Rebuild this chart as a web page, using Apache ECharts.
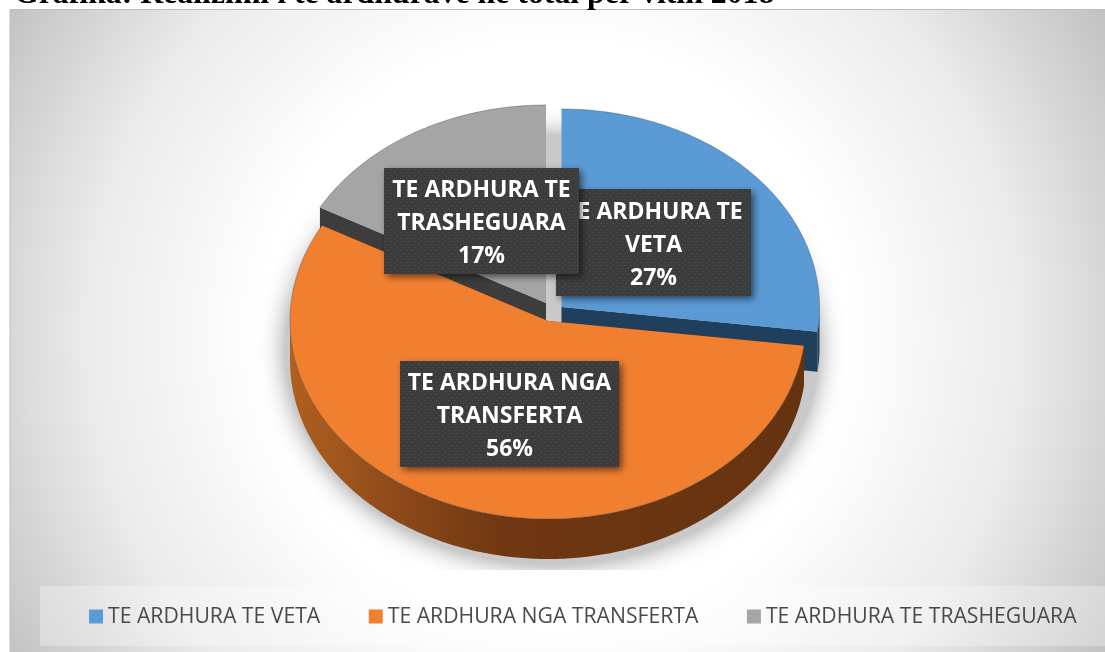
<!DOCTYPE html>
<html><head><meta charset="utf-8">
<style>html,body{margin:0;padding:0;background:#fff}#c{width:1105px;height:652px}</style>
<script src="https://cdn.jsdelivr.net/npm/echarts@6/dist/echarts.min.js"></script>
</head><body><div id="c"></div>
<script>
const titleText = 'Grafika: Realizimi i te ardhurave ne total per vitin 2018';
const categories = ['TE ARDHURA TE VETA', 'TE ARDHURA NGA TRANSFERTA', 'TE ARDHURA TE TRASHEGUARA'];
const labelLines = ['TE ARDHURA TE\nVETA', 'TE ARDHURA NGA\nTRANSFERTA', 'TE ARDHURA TE\nTRASHEGUARA'];
const values = [27, 56, 17];
const colors = ['#5b9bd5', '#f07f30', '#a5a5a5'];

const rx = 258, ry = 198, depth = 40;
const centers = [[561.5, 307], [548, 321], [546, 303]];
const wallColors = ['#1f3f5c', '#6b3512', '#3d3d3d'];
const boxes = [[556, 189, 195, 107], [400, 361, 219, 106], [384, 168, 195, 106]];
const order = [2, 0, 1];
const labelOrder = [1, 3, 2];
const total = values.reduce((a, b) => a + b, 0);

const tile = document.createElement('canvas');
tile.width = 6; tile.height = 6;
(function () {
  const g = tile.getContext('2d');
  g.fillStyle = '#3c3c3c'; g.fillRect(0, 0, 6, 6);
  g.fillStyle = '#545454';
  g.fillRect(1, 1, 1, 1); g.fillRect(4, 4, 1, 1);
})();

function pt(c, deg, dy) {
  const a = deg * Math.PI / 180;
  return [c[0] + rx * Math.sin(a), c[1] - ry * Math.cos(a) + (dy || 0)];
}
function arc(c, from, to, dy) {
  const out = [];
  const n = Math.max(2, Math.ceil(Math.abs(to - from) / 0.75));
  for (let i = 0; i <= n; i++) out.push(pt(c, from + (to - from) * i / n, dy));
  return out;
}
function renderSlice(idx) {
  return function (params, api) {
    const v = api.value(0);
    let before = 0;
    for (let i = 0; i < idx; i++) before += values[i];
    const a0 = before / total * 360, a1 = a0 + v / total * 360;
    const c = centers[idx], base = (order.indexOf(idx) + 1) * 10;
    const kids = [];
    if (idx === 2) {
      kids.push({
        type: 'ellipse', z2: 1, silent: true,
        shape: { cx: 552, cy: 350, rx: 266, ry: 214 },
        style: { fill: '#c9c9c9', shadowBlur: 26, shadowColor: 'rgba(0,0,0,0.45)' },
        clipPath: { type: 'rect', shape: { x: 0, y: 0, width: 1105, height: 570 } }
      });
    }
    [a0, a1].forEach(function (a) {
      const p = pt(c, a);
      kids.push({
        type: 'polygon', z2: base,
        shape: { points: [c, p, [p[0], p[1] + depth], [c[0], c[1] + depth]] },
        style: { fill: wallColors[idx] }
      });
    });
    const w0 = Math.max(a0, 90), w1 = Math.min(a1, 270);
    if (w1 > w0) {
      const fill = idx === 1 ? {
        type: 'linear', x: 0, y: 0, x2: 1, y2: 0,
        colorStops: [
          { offset: 0, color: '#b0601f' }, { offset: 0.2, color: '#8e4a1a' },
          { offset: 0.42, color: '#6f3712' }, { offset: 1, color: '#663310' }
        ]
      } : wallColors[idx];
      kids.push({
        type: 'polygon', z2: base + 1,
        shape: { points: arc(c, w0, w1, 0).concat(arc(c, w1, w0, depth)) },
        style: { fill: fill }
      });
    }
    kids.push({
      type: 'polygon', z2: base + 2,
      shape: { points: [c].concat(arc(c, a0, a1, 0)) },
      style: { fill: api.visual('color') }
    });
    kids.push({
      type: 'polyline', z2: base + 3, silent: true,
      shape: { points: arc(c, a0, a1, 0) },
      style: { fill: null, stroke: 'rgba(60,60,60,0.45)', lineWidth: 0.8 }
    });
    const b = boxes[idx], lz = 100 + labelOrder[idx] * 2;
    kids.push({
      type: 'rect', z2: lz,
      shape: { x: b[0], y: b[1], width: b[2], height: b[3] },
      style: {
        fill: { image: tile, repeat: 'repeat' },
        shadowBlur: 7, shadowOffsetX: 3, shadowOffsetY: 3, shadowColor: 'rgba(0,0,0,0.55)'
      }
    });
    kids.push({
      type: 'text', z2: lz + 1,
      x: b[0] + b[2] / 2, y: b[1] + b[3] / 2 + 2.5,
      style: {
        text: labelLines[idx] + '\n' + v + '%',
        fill: '#ffffff', align: 'center', verticalAlign: 'middle',
        font: 'bold 23px "Open Sans"', lineHeight: 33
      }
    });
    return { type: 'group', children: kids };
  };
}

const chart = echarts.init(document.getElementById('c'), null, { renderer: 'canvas' });
chart.setOption({
  animation: false,
  title: {
    text: titleText, left: 9, top: -26,
    textStyle: { fontFamily: 'Liberation Serif', fontWeight: 'bold', fontSize: 31.8, color: '#000' }
  },
  graphic: [{
    type: 'rect', z: -2, silent: true,
    shape: { x: 10, y: 9.5, width: 1100, height: 648 },
    style: {
      stroke: '#bdbdbd', lineWidth: 1,
      fill: {
        type: 'radial', x: 0.495, y: 0.5, r: 1,
        colorStops: [
          { offset: 0, color: '#ffffff' }, { offset: 0.45, color: '#ffffff' },
          { offset: 0.72, color: '#ebebeb' }, { offset: 1, color: '#bfbfbf' }
        ]
      }
    }
  }, {
    type: 'rect', z: -1, silent: true,
    shape: { x: 40, y: 586, width: 1065, height: 60 },
    style: { fill: 'rgba(255,255,255,0.3)' }
  }],
  legend: {
    data: categories, left: 89, top: 606, width: 1016, orient: 'horizontal',
    padding: 0, itemGap: 48.5, itemWidth: 14, itemHeight: 14, icon: 'rect',
    selectedMode: false,
    textStyle: { fontFamily: 'Open Sans', fontSize: 21.2, color: '#4a4a4a', lineHeight: 20 }
  },
  series: order.map(function (i) {
    return {
      type: 'custom', name: categories[i], coordinateSystem: 'none',
      itemStyle: { color: colors[i] },
      renderItem: renderSlice(i),
      data: [[values[i]]],
      clip: false
    };
  })
});
</script></body></html>
